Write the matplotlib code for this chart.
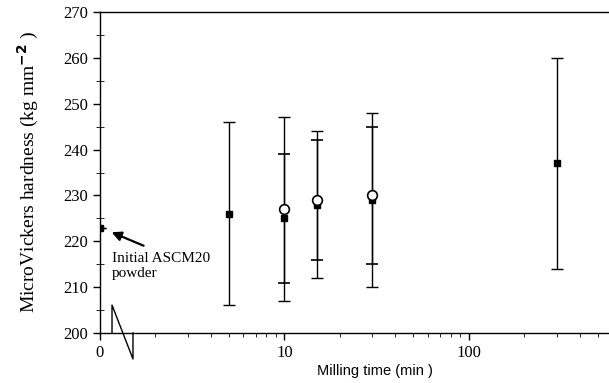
import matplotlib
matplotlib.use("Agg")
import matplotlib.pyplot as plt
import numpy as np

plt.rcParams['font.family'] = ['Liberation Serif', 'DejaVu Serif']
plt.rcParams['mathtext.fontset'] = 'dejavusans'

# milling time (min), 0 = initial powder
time_star = [0, 5, 10, 15, 30, 300]
hv_star = [223, 226, 225, 228, 229, 237]
star_lo = [223, 206, 207, 212, 210, 214]
star_hi = [223, 246, 247, 244, 248, 260]

time_circ = [10, 15, 30]
hv_circ = [227, 229, 230]
circ_lo = [211, 216, 215]
circ_hi = [239, 242, 245]

xticks = [1, 10, 100]
xticklabels = ["0", "10", "100"]

fig = plt.figure(figsize=(6.09, 3.83), dpi=100)
ax = fig.add_axes([100 / 609, 50 / 383, 509 / 609, 321 / 383])

# time 0 is drawn at the left edge (x=1 on the log axis)
xs = np.where(np.array(time_star) == 0, 1, time_star)
ys = np.array(hv_star)
yerr = [ys - np.array(star_lo), np.array(star_hi) - ys]
ax.errorbar(xs, ys, yerr=yerr, fmt='s', color='black', ms=4, lw=1,
            capsize=4, capthick=1, zorder=3)

xc = np.array(time_circ)
yc = np.array(hv_circ)
yerr_c = [yc - np.array(circ_lo), np.array(circ_hi) - yc]
ax.errorbar(xc, yc, yerr=yerr_c, fmt='o', color='black', mfc='white',
            ms=7, mew=1.2, lw=1, capsize=4, capthick=1, zorder=4)

ax.set_xscale('log')
ax.set_xlim(1, 577)
ax.set_ylim(200, 270)
ax.set_xticks(xticks)
ax.set_xticklabels(xticklabels)
ax.set_yticks(np.arange(200, 271, 10))
ax.set_yticks(np.arange(205, 270, 10), minor=True)
ax.tick_params(axis='both', labelsize=12, width=1)
ax.tick_params(axis='y', which='major', direction='out', length=5)
ax.tick_params(axis='y', which='minor', direction='inout', length=6)
ax.tick_params(axis='x', which='major', direction='out', length=5)
ax.tick_params(axis='x', which='minor', direction='out', length=3)
ax.spines['right'].set_visible(False)
for s in ['left', 'bottom', 'top']:
    ax.spines[s].set_linewidth(1)

# axis break mark
ax.plot([0.0236, 0.0236, 0.0648, 0.0648], [0.0, 0.087, -0.081, 0.0],
        transform=ax.transAxes, color='black', lw=1, clip_on=False)

ax.set_ylabel("MicroVickers hardness (kg mm$^{\\mathbf{-2}}$ )", fontsize=14,
              labelpad=16)
ax.text(0.54, -0.098, "Milling time (min )", transform=ax.transAxes,
        fontsize=10.5, family='Liberation Sans', ha='center', va='top')

ax.annotate('', xy=(1.12, 222.2), xytext=(1.78, 218.8),
            arrowprops=dict(arrowstyle='-|>', color='black', lw=1.6,
                            mutation_scale=14))
ax.text(1.16, 214.6, "Initial ASCM20\npowder", fontsize=11, ha='left',
        va='center', linespacing=1.15)

fig.savefig("out.png", dpi=100)
